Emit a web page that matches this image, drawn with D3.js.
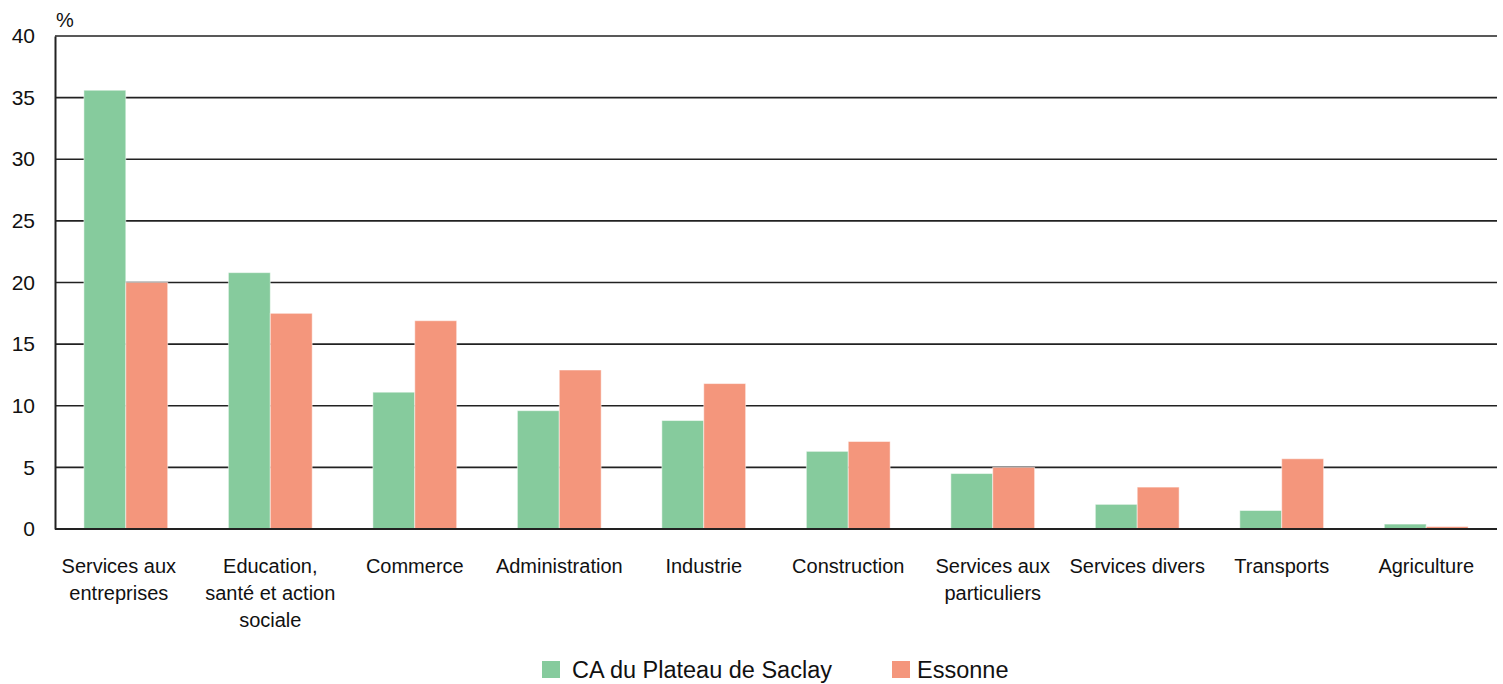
<!DOCTYPE html>
<html lang="fr">
<head>
  <meta charset="UTF-8" />
  <title>Emploi par secteur</title>
  <script src="https://cdn.jsdelivr.net/npm/d3@7"></script>
  <style>
    body { margin: 0; background: #fff; }
    text { font-family: "Liberation Sans", Arial, sans-serif; fill: #111; }
  </style>
</head>
<body>
  <div id="chart"></div>
  <script>
  // categories (line breaks as in the original labels)
  var categories = [
    ["Services aux", "entreprises"],
    ["Education,", "santé et action", "sociale"],
    ["Commerce"],
    ["Administration"],
    ["Industrie"],
    ["Construction"],
    ["Services aux", "particuliers"],
    ["Services divers"],
    ["Transports"],
    ["Agriculture"]
  ];
  var seriesNames = ["CA du Plateau de Saclay", "Essonne"];
  var saclay = [35.6, 20.8, 11.1, 9.6, 8.8, 6.3, 4.5, 2.0, 1.5, 0.4];
  var essonne = [20.0, 17.5, 16.9, 12.9, 11.8, 7.1, 5.0, 3.4, 5.7, 0.2];
  var yTicks = [0, 5, 10, 15, 20, 25, 30, 35, 40];
  var colors = ["#86cb9d", "#f4967c"];

  var W = 1503, H = 684;
  var margin = { top: 36, right: 6, bottom: 155, left: 55 };
  var innerW = W - margin.left - margin.right;
  var innerH = H - margin.top - margin.bottom;

  var svg = d3.select("#chart").append("svg")
    .attr("width", W).attr("height", H);
  var g = svg.append("g")
    .attr("transform", "translate(" + margin.left + "," + margin.top + ")");

  var x = d3.scaleBand()
    .domain(d3.range(categories.length))
    .range([0, innerW])
    .paddingInner(0.42)
    .paddingOuter(0.2);
  var x1 = d3.scaleBand().domain([0, 1]).range([0, x.bandwidth()]);
  var y = d3.scaleLinear().domain([0, 40]).range([innerH, 0]);

  // gridlines
  g.selectAll(".grid").data(yTicks).enter().append("line")
    .attr("x1", 0).attr("x2", innerW)
    .attr("y1", function(d){ return y(d); })
    .attr("y2", function(d){ return y(d); })
    .attr("stroke", "#222").attr("stroke-width", 1.6);

  // y axis
  var yAxis = d3.axisLeft(y).tickValues(yTicks).tickSize(0).tickPadding(20);
  var ya = g.append("g").call(yAxis);
  ya.select(".domain").attr("stroke", "#222").attr("stroke-width", 2);
  ya.selectAll("text").style("font-size", "21px")
    .style("font-family", "Liberation Sans, Arial, sans-serif").attr("fill", "#111");

  g.append("text").attr("x", 1).attr("y", -9)
    .style("font-size", "20px").text("%");

  // bars
  var rows = categories.map(function(c, i){ return [saclay[i], essonne[i]]; });
  var groups = g.selectAll(".grp").data(rows).enter().append("g")
    .attr("transform", function(d, i){ return "translate(" + x(i) + ",0)"; });
  groups.selectAll("rect").data(function(d){ return d; }).enter().append("rect")
    .attr("x", function(d, j){ return x1(j); })
    .attr("width", x1.bandwidth())
    .attr("y", function(d){ return y(d); })
    .attr("height", function(d){ return innerH - y(d); })
    .attr("fill", function(d, j){ return colors[j]; })
    .attr("stroke", "#fff").attr("stroke-opacity", 0.5).attr("stroke-width", 1);

  // baseline on top
  g.append("line").attr("x1", 0).attr("x2", innerW)
    .attr("y1", y(0)).attr("y2", y(0))
    .attr("stroke", "#222").attr("stroke-width", 2);

  // category labels
  var labels = g.selectAll(".cat").data(categories).enter().append("text")
    .attr("text-anchor", "middle")
    .style("font-size", "20px")
    .attr("transform", function(d, i){
      var dx = i === 0 ? -7 : 0;
      return "translate(" + (x(i) + x.bandwidth() / 2 + dx) + "," + (innerH + 44) + ")";
    });
  labels.selectAll("tspan").data(function(d){ return d; }).enter().append("tspan")
    .attr("x", 0).attr("y", function(d, k){ return k * 27; })
    .text(function(d){ return d; });

  // legend
  var legX = [542, 892];
  var leg = svg.selectAll(".leg").data(seriesNames).enter().append("g")
    .attr("transform", function(d, i){ return "translate(" + legX[i] + ",661)"; });
  leg.append("rect").attr("width", 18).attr("height", 17)
    .attr("fill", function(d, i){ return colors[i]; });
  leg.append("text").attr("x", function(d, i){ return i === 0 ? 30 : 25; }).attr("y", 17)
    .style("font-size", "23.5px").text(function(d){ return d; });
  </script>
</body>
</html>
